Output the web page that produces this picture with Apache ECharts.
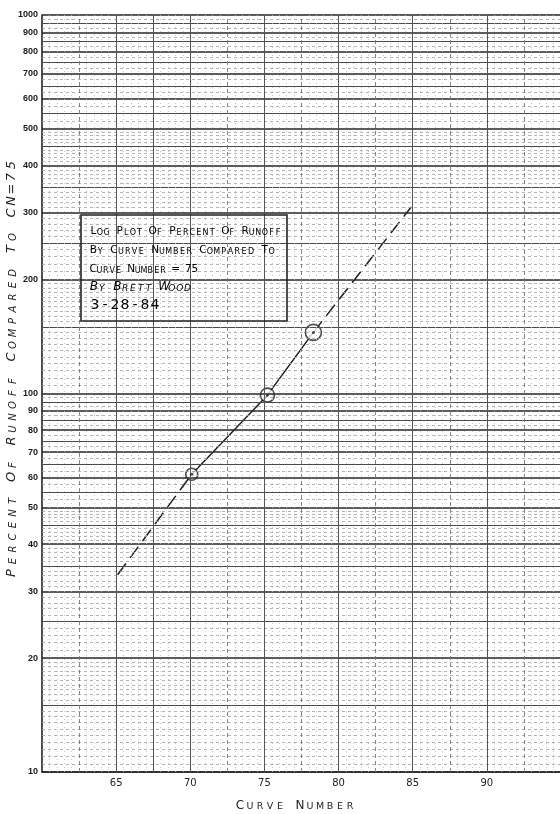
<!DOCTYPE html>
<html><head><meta charset="utf-8">
<script src="https://cdn.jsdelivr.net/npm/echarts@6/dist/echarts.min.js"></script>
<style>html,body{margin:0;padding:0;background:#fff}#c{width:560px;height:814px}</style>
</head><body><div id="c"></div>
<script>
// ---- data ----
const xTickValues = [65, 70, 75, 80, 85, 90];
const yTickLabels = [10, 20, 30, 40, 50, 60, 70, 80, 90, 100, 200, 300, 400, 500, 600, 700, 800, 900, 1000];
const measuredCN = [70.1, 75.2, 78.3];
const measuredPct = [61.2, 99, 145];
const lowerExtCN = [65.1, 70.1];
const lowerExtPct = [33.2, 61.2];
const upperExtCN = [78.3, 84.9];
const upperExtPct = [145, 311];
const yTitle = 'Percent Of Runoff Compared To CN=75';
const xTitle = 'Curve Number';
const noteLines = ['Log Plot Of Percent Of Runoff', 'By Curve Number Compared To', 'Curve Number = 75', 'By Brett Wood', '3-28-84'];

// ---- graph-paper rulings ----
const yMidLines = [15, 25, 35, 45, 55, 65, 75, 85, 95, 150, 250, 350, 450, 550, 650, 750, 850, 950];
function range(a, b, step) { const r = []; for (let v = a; v <= b + 1e-9; v += step) r.push(+v.toFixed(3)); return r; }
const yMinorLines = [].concat(range(10, 20, 0.5), range(20, 50, 1), range(50, 100, 2.5), range(100, 200, 5), range(200, 500, 10), range(500, 1000, 25))
  .filter(v => !yTickLabels.includes(v) && !yMidLines.includes(v));
const xMajorLines = [65, 67.5, 70, 75, 80, 85, 90];
const xMidLines = [62.5, 72.5, 77.5, 82.5, 87.5, 92.5];
const xMinorLines = range(60.5, 95, 0.5).filter(v => Math.abs(v / 2.5 - Math.round(v / 2.5)) > 1e-6);

// ---- lettering helpers (hand-lettered small caps) ----
function spaced(str) {
  return str.split('').map(ch => {
    if (ch === ' ') return '{w| }';
    if (/[a-z]/.test(ch)) return '{s|' + ch.toUpperCase() + '}';
    return '{b|' + ch + '}';
  }).join('');
}
function richStyles(adv, big, small, extra) {
  const base = Object.assign({ width: adv, align: 'center', verticalAlign: 'bottom', color: '#222', fontFamily: 'DejaVu Sans' }, extra || {});
  return {
    b: Object.assign({}, base, { fontSize: big }),
    s: Object.assign({}, base, { fontSize: small }),
    w: Object.assign({}, base, { fontSize: small })
  };
}

const gridMarks = [];
yTickLabels.forEach(v => gridMarks.push({
  yAxis: v,
  lineStyle: { color: '#262626', width: 1.7, type: 'solid' },
  label: { show: true, position: 'start', distance: 4, formatter: String(v), color: '#1a1a1a', fontSize: 9, fontWeight: 'bold', fontFamily: 'Liberation Sans', padding: [0, 0, 3, 0] }
}));
yMidLines.forEach(v => gridMarks.push({ yAxis: v, lineStyle: { color: '#4a4a4a', width: 1.1, type: 'solid' } }));
yMinorLines.forEach(v => gridMarks.push({ yAxis: v, lineStyle: { color: '#a0a0a0', width: 0.8, type: [3, 3] } }));
xMajorLines.forEach(v => gridMarks.push({ xAxis: v, lineStyle: { color: '#555', width: 1, type: 'solid' } }));
xMidLines.forEach(v => gridMarks.push({ xAxis: v, lineStyle: { color: '#777', width: 0.9, type: [4, 3] } }));
xMinorLines.forEach(v => gridMarks.push({ xAxis: v, lineStyle: { color: '#bbb', width: 0.8, type: [1, 3] } }));

const chart = echarts.init(document.getElementById('c'), null, { renderer: 'canvas' });

const noteStyles = [
  { adv: 6.6, big: 10.5, small: 8, y: 231, extra: {} },
  { adv: 6.85, big: 10.5, small: 8, y: 250, extra: {} },
  { adv: 6.35, big: 10.5, small: 8, y: 269, extra: {} },
  { adv: 7.8, big: 12, small: 9, y: 287, extra: { fontStyle: 'italic' } },
  { adv: 10, big: 14, small: 10, y: 305, extra: {} }
];
const pointSizes = [12, 14, 16];

const option = {
  animation: false,
  backgroundColor: '#fff',
  grid: { left: 42, top: 15, width: 519, height: 757, containLabel: false, outerBoundsMode: 'none' },
  xAxis: {
    type: 'value', min: 60, max: 95, interval: 5,
    axisLine: { show: true, onZero: false, lineStyle: { color: '#222', width: 1.6 } },
    axisTick: { show: false },
    splitLine: { show: false },
    axisLabel: {
      margin: 6, color: '#222', fontSize: 10, fontFamily: 'DejaVu Sans',
      formatter: v => (xTickValues.includes(v) ? String(v) : '')
    },
    name: spaced(xTitle), nameLocation: 'middle', nameGap: 28,
    nameTextStyle: { rich: richStyles(10, 12, 9.5), padding: [0, 13, 0, 0] }
  },
  yAxis: {
    type: 'log', logBase: 10, min: 10, max: 1000,
    axisLine: { show: true, onZero: false, lineStyle: { color: '#222', width: 1.6 } },
    axisTick: { show: false },
    axisLabel: { show: false },
    splitLine: { show: false },
    minorSplitLine: { show: false },
    name: spaced(yTitle), nameLocation: 'middle', nameRotate: 90, nameGap: 24,
    nameTextStyle: { rich: richStyles(12, 13, 10, { fontStyle: 'italic' }), padding: [0, 0, 0, 49] }
  },
  series: [
    {
      name: 'paper', type: 'line', data: [], silent: true, z: 1,
      markLine: { symbol: ['none', 'none'], silent: true, animation: false, label: { show: false }, emphasis: { disabled: true }, data: gridMarks }
    },
    {
      name: 'lower extension', type: 'line', z: 3, symbol: 'none', silent: true,
      data: lowerExtCN.map((x, i) => [x, lowerExtPct[i]]),
      lineStyle: { color: '#1e1e1e', width: 1.5, type: [14, 7] }
    },
    {
      name: 'measured', type: 'line', z: 3, symbol: 'none', silent: true,
      data: measuredCN.map((x, i) => [x, measuredPct[i]]),
      lineStyle: { color: '#1e1e1e', width: 1.5 }
    },
    {
      name: 'upper extension', type: 'line', z: 3, symbol: 'none', silent: true,
      data: upperExtCN.map((x, i) => [x, upperExtPct[i]]),
      lineStyle: { color: '#1e1e1e', width: 1.5, type: [14, 7] }
    },
    {
      name: 'points', type: 'scatter', z: 4, symbol: 'circle', silent: true,
      symbolSize: (val, params) => pointSizes[params.dataIndex],
      data: measuredCN.map((x, i) => [x, measuredPct[i]]),
      itemStyle: { color: '#fff', borderColor: '#1e1e1e', borderWidth: 1.6 }
    },
    {
      name: 'centres', type: 'scatter', z: 5, symbol: 'circle', symbolSize: 3, silent: true,
      data: measuredCN.map((x, i) => [x, measuredPct[i]]),
      itemStyle: { color: '#222' }
    }
  ],
  graphic: [
    { type: 'rect', z: 10, silent: true, shape: { x: 81, y: 215, width: 206, height: 106 }, style: { fill: 'none', stroke: '#222', lineWidth: 1.6 } }
  ].concat(noteLines.map((t, i) => ({
    type: 'text', z: 10, silent: true, x: 90, y: noteStyles[i].y,
    style: { text: spaced(t), rich: richStyles(noteStyles[i].adv, noteStyles[i].big, noteStyles[i].small, noteStyles[i].extra), align: 'left', verticalAlign: 'middle' }
  })))
};
chart.setOption(option);
</script></body></html>
